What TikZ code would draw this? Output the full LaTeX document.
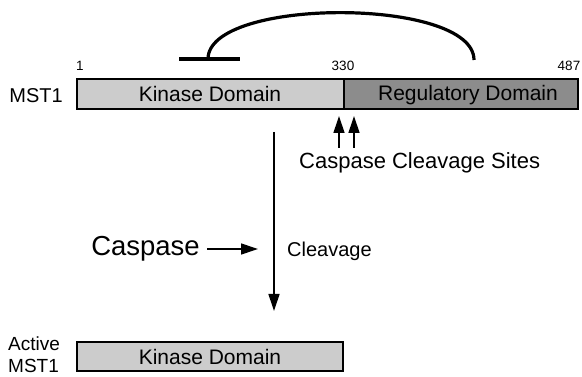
\documentclass[tikz,border=0pt]{standalone}
\usepackage{fontspec}
\setmainfont{Liberation Sans}
\usetikzlibrary{arrows.meta}
\begin{document}
\begin{tikzpicture}[x=1pt,y=-1pt,
  lbl/.style={inner sep=0pt, font=\fontsize{20}{22}\selectfont},
  num/.style={inner sep=0pt, font=\fontsize{13.5}{15}\selectfont},
  kinase/.style={draw=black, line width=1.2pt, fill=black!20, inner sep=0pt},
  regul/.style={draw=black, line width=1.2pt, fill=black!45, inner sep=0pt},
  domtext/.style={inner sep=0pt, font=\fontsize{21}{23}\selectfont},
  thick arc/.style={line width=3.2pt},
  solidarrow/.style={line width=1.3pt, -{Triangle[length=17pt, width=11pt]}}
]
\useasboundingbox (0,0) rectangle (582,377);

% full-length protein
\node[lbl, anchor=east] (mst) at (63,96) {MST1};
\draw[kinase] (77,79) rectangle (344,109);
\draw[regul] (344,79) rectangle (578,109);
\node[domtext] (kd) at (210,94) {Kinase Domain};
\node[domtext] (rd) at (468,95) {Regulatory Domain};

% residue numbers
\node[num] (n1) at (80,66) {1};
\node[num] (n330) at (343,66) {330};
\node[num] (n487) at (569,66) {487};

% autoinhibition: regulatory domain blocks the kinase domain
\coordinate (barL) at (179,59);
\coordinate (barR) at (240,59);
\coordinate (arcS) at (208,59);
\coordinate (arcE) at (474,60);
\draw[thick arc] (barL) -- (barR);
\draw[thick arc] (arcS) .. controls (208,-3) and (474,-3) .. (arcE);

% cleavage sites
\coordinate (c1b) at (339,148);
\coordinate (c1t) at (339,116);
\coordinate (c2b) at (354,148);
\coordinate (c2t) at (354,116);
\draw[solidarrow] (c1b) -- (c1t);
\draw[solidarrow] (c2b) -- (c2t);
\node[lbl, anchor=west, font=\fontsize{22}{24}\selectfont] (sites) at (299,163) {Caspase Cleavage Sites};

% cleavage step
\coordinate (vtop) at (274,132);
\coordinate (vbot) at (274,311);
\draw[solidarrow] (vtop) -- (vbot);
\node[inner sep=0pt, anchor=east, font=\fontsize{27.5}{30}\selectfont] (casp) at (200,249) {Caspase};
\coordinate (hs) at (207,249);
\coordinate (he) at (258,249);
\draw[solidarrow] (hs) -- (he);
\node[inner sep=0pt, anchor=west, font=\fontsize{20}{22}\selectfont] (clv) at (287,251) {Cleavage};

% active kinase fragment
\draw[kinase] (77,342) rectangle (343,371);
\node[domtext] (kd2) at (210,357) {Kinase Domain};
\node[inner sep=0pt, anchor=west, font=\fontsize{19}{21}\selectfont] (act) at (8,344) {Active};
\node[inner sep=0pt, anchor=west, font=\fontsize{19}{21}\selectfont] (mst2) at (8,365.5) {MST1};
\end{tikzpicture}
\end{document}
